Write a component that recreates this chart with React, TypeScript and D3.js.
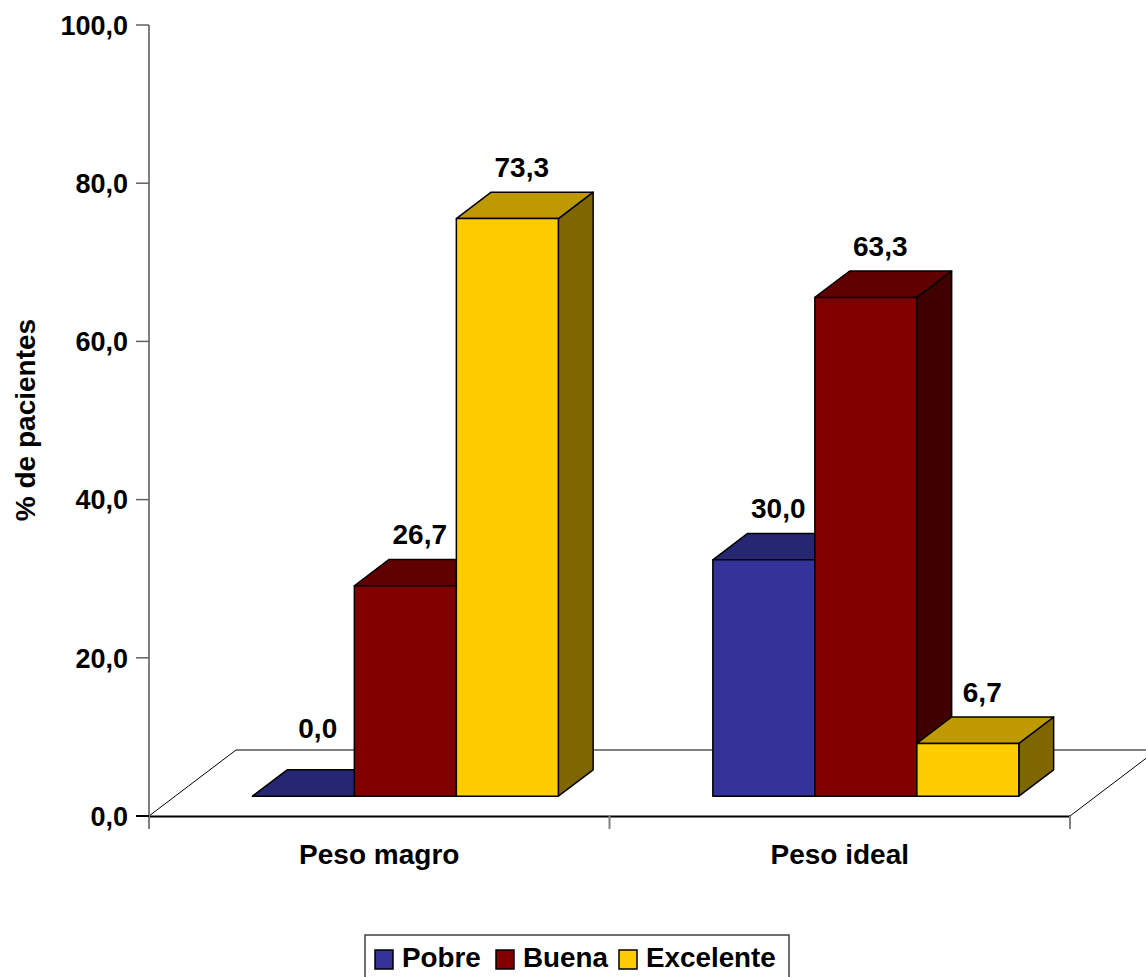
import React from "react";
import * as d3 from "d3";

const categories = ["Peso magro", "Peso ideal"];
const seriesNames = ["Pobre", "Buena", "Excelente"];
const pobre = [0.0, 30.0];
const buena = [26.7, 63.3];
const excelente = [73.3, 6.7];
const yTicks = [0, 20, 40, 60, 80, 100];

const seriesValues = [pobre, buena, excelente];
const frontColors = ["#333399", "#800000", "#FFCC00"];

const W = 1146;
const H = 977;
const FONT = "'Liberation Sans', Arial, sans-serif";

// floor depth vector and bar placement within it
const depth = { x: 87, y: -66 };
const barFront = 0.3;
const barBack = 0.7;

function shade(c: string, k: number) {
  const col = d3.rgb(c);
  return d3.rgb(col.r * k, col.g * k, col.b * k).formatHex();
}

const fmt = (v: number) => v.toFixed(1).replace(".", ",");

export default function App() {
  const left = 149;
  const right = 1070;
  const bottom = 816;

  const yAxis = d3.scaleLinear().domain([0, 100]).range([bottom, 25]);
  const baseY = bottom + depth.y * barFront;
  const yBar = d3.scaleLinear().domain([0, 100]).range([baseY, baseY - 788]);

  const x0 = d3.scaleBand<string>().domain(categories).range([left, right]).padding(0);
  const groupW = 306;

  const offX = depth.x * barFront;
  const dX = depth.x * (barBack - barFront);
  const dY = depth.y * (barBack - barFront);

  const bars: React.ReactNode[] = [];
  const labels: React.ReactNode[] = [];

  categories.forEach((cat, ci) => {
    const center = (x0(cat) as number) + x0.bandwidth() / 2 + offX;
    const x1 = d3
      .scaleBand<string>()
      .domain(seriesNames)
      .range([center - groupW / 2, center + groupW / 2])
      .padding(0);
    seriesNames.forEach((s, si) => {
      const v = seriesValues[si][ci];
      const bx = x1(s) as number;
      const bw = x1.bandwidth();
      const top = yBar(v);
      const base = yBar(0);
      const col = frontColors[si];
      const front = `M${bx},${top}H${bx + bw}V${base}H${bx}Z`;
      const topFace = `M${bx},${top}L${bx + dX},${top + dY}H${bx + bw + dX}L${bx + bw},${top}Z`;
      const side = `M${bx + bw},${top}L${bx + bw + dX},${top + dY}V${base + dY}L${bx + bw},${base}Z`;
      bars.push(
        <g key={`${cat}-${s}`} stroke="#000" strokeWidth={1.5} strokeLinejoin="round">
          <path d={side} fill={shade(col, 0.5)} />
          <path d={topFace} fill={shade(col, 0.75)} />
          {v > 0 && <path d={front} fill={col} />}
        </g>
      );
      const backTop = top + dY;
      const ly = Math.min(backTop - 15, base + dY - 32);
      labels.push(
        <text
          key={`l-${cat}-${s}`}
          x={bx + bw / 2 + dX / 2 - 3}
          y={ly}
          textAnchor="middle"
          fontFamily={FONT}
          fontWeight="bold"
          fontSize={28}
          fill="#000"
        >
          {fmt(v)}
        </text>
      );
    });
  });

  const legendItems = seriesNames.map((s, i) => ({ s, c: frontColors[i] }));
  const legendX = [375, 496, 619];

  return (
    <svg
      width={W}
      height={H}
      style={{ position: "absolute", left: 0, top: 0, background: "#fff" }}
      xmlns="http://www.w3.org/2000/svg"
    >
      <rect x={0} y={0} width={W} height={H} fill="#fff" />

      {/* floor */}
      <g fill="none" stroke="#000" strokeWidth={1}>
        <path
          d={`M${left},${bottom}L${left + depth.x},${bottom + depth.y}H${right + depth.x}`}
        />
        <path d={`M${right},${bottom}L${right + depth.x},${bottom + depth.y}`} />
      </g>
      <line x1={left} x2={right} y1={bottom + 0.5} y2={bottom + 0.5} stroke="#000" strokeWidth={2} />

      {/* category ticks */}
      {[left, left + x0.bandwidth(), right].map((tx, i) => (
        <line key={i} x1={tx} x2={tx} y1={bottom} y2={829} stroke="#808080" strokeWidth={2} />
      ))}

      {/* value axis */}
      <line x1={left} x2={left} y1={yAxis(100)} y2={829} stroke="#808080" strokeWidth={2} />
      {yTicks.map((t) => (
        <g key={t}>
          <line x1={136} x2={left} y1={yAxis(t)} y2={yAxis(t)} stroke={t === 0 ? "#000" : "#606060"} strokeWidth={t === 0 ? 2 : 1.5} />
          <text
            x={128}
            y={yAxis(t)}
            dy="0.36em"
            textAnchor="end"
            fontFamily={FONT}
            fontWeight="bold"
            fontSize={27}
            fill="#000"
          >
            {fmt(t)}
          </text>
        </g>
      ))}

      {bars}
      {labels}

      {/* category labels */}
      {categories.map((c) => (
        <text
          key={c}
          x={(x0(c) as number) + x0.bandwidth() / 2}
          y={864}
          textAnchor="middle"
          fontFamily={FONT}
          fontWeight="bold"
          fontSize={28}
          fill="#000"
        >
          {c}
        </text>
      ))}

      {/* value axis title */}
      <text
        transform="translate(35,420) rotate(-90)"
        textAnchor="middle"
        fontFamily={FONT}
        fontWeight="bold"
        fontSize={28}
        fill="#000"
      >
        % de pacientes
      </text>

      {/* legend */}
      <rect x={365} y={935} width={424} height={70} fill="#fff" stroke="#404040" strokeWidth={1.5} />
      {legendItems.map((it, i) => (
        <g key={it.s}>
          <rect x={legendX[i]} y={950} width={18} height={19} fill={it.c} stroke="#000" strokeWidth={1.5} />
          <text
            x={legendX[i] + 27}
            y={967}
            fontFamily={FONT}
            fontWeight="bold"
            fontSize={27.8}
            fill="#000"
          >
            {it.s}
          </text>
        </g>
      ))}
    </svg>
  );
}
